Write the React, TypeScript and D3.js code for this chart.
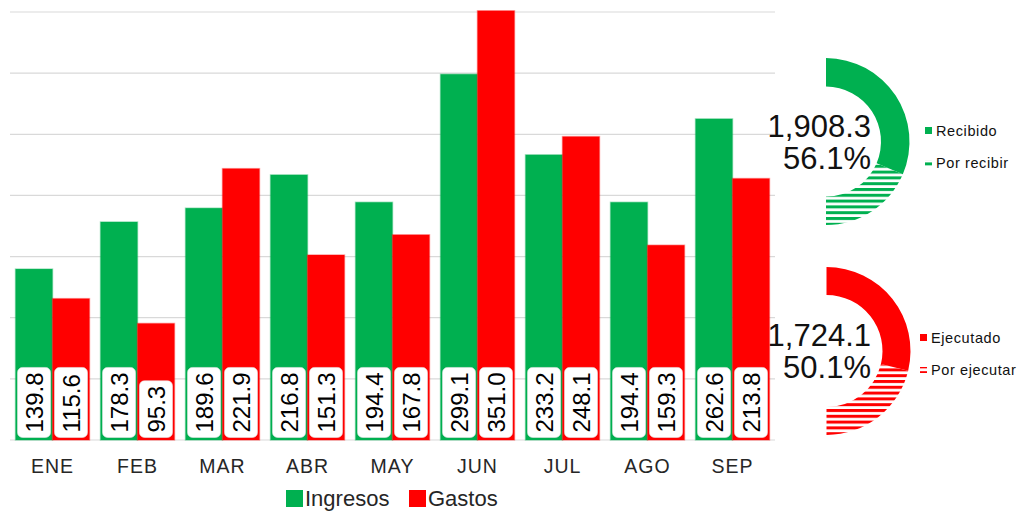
import React from "react";
import * as d3 from "d3";

// monthly data (millions)
const months = ["ENE", "FEB", "MAR", "ABR", "MAY", "JUN", "JUL", "AGO", "SEP"];
const ingresos = [139.8, 178.3, 189.6, 216.8, 194.4, 299.1, 233.2, 194.4, 262.6];
const gastos = [115.6, 95.3, 221.9, 151.3, 167.8, 351.0, 248.1, 159.3, 213.8];
const yTicks = [0, 50, 100, 150, 200, 250, 300, 350];
const seriesNames = ["Ingresos", "Gastos"];

// gauges: [done, pending]
const ingresosGauge = [1908.3, 1130];
const ingresosGaugeLabels = ["Recibido", "Por recibir"];
const ingresosGaugeText = ["1,908.3", "56.1%"];
const gastosGauge = [1724.1, 1274];
const gastosGaugeLabels = ["Ejecutado", "Por ejecutar"];
const gastosGaugeText = ["1,724.1", "50.1%"];

const GREEN = "#00B050";
const RED = "#FF0000";
const FONT = "'Liberation Sans', Arial, sans-serif";

// approx Arial width of a number label
const textWidth = (s: string, size: number) =>
  s.split("").reduce((a, c) => a + (c === "." || c === "," ? 0.278 : 0.556), 0) * size;

const Gauge = ({ cx, cy, r0, r1, values, color, patternId, text, labels, legendX, legendY }: any) => {
  const pie = d3.pie<number>().sort(null).startAngle(0).endAngle(Math.PI)(values);
  const arc = d3.arc<d3.PieArcDatum<number>>().innerRadius(r0).outerRadius(r1);
  return (
    <g>
      <g transform={`translate(${cx},${cy})`}>
        {pie.map((d, i) => (
          <path key={i} d={arc(d) || ""} fill={i === 0 ? color : `url(#${patternId})`} />
        ))}
      </g>
      <text x={871} y={cy - 5} textAnchor="end" fontSize={31} fontFamily={FONT} fill="#111">
        {text[0]}
      </text>
      <text x={871} y={cy + 27} textAnchor="end" fontSize={31} fontFamily={FONT} fill="#111">
        {text[1]}
      </text>
      <rect x={legendX} y={legendY[0] - 9} width={7} height={7} fill={color} />
      <rect x={legendX} y={legendY[1] - 8} width={7} height={6} fill={`url(#${patternId})`} />
      {labels.map((l: string, i: number) => (
        <text key={l} x={legendX + 11} y={legendY[i]} fontSize={14.5} letterSpacing={0.6}
          fontFamily={FONT} fill="#111">{l}</text>
      ))}
    </g>
  );
};

export default function App() {
  const width = 1018;
  const height = 513;
  const x0 = d3.scaleBand().domain(months).range([10, 775]).paddingInner(0.13).paddingOuter(0.065);
  const x1 = d3.scaleBand().domain(seriesNames).range([0, x0.bandwidth()]).padding(0);
  const y = d3.scaleLinear().domain([0, 350]).range([440, 12]);
  const bw = x1.bandwidth();

  const bars = months.flatMap((m, i) => [
    { m, s: "Ingresos", v: ingresos[i], color: GREEN },
    { m, s: "Gastos", v: gastos[i], color: RED },
  ]);

  return (
    <div style={{ position: "absolute", left: 0, top: 0 }}>
      <svg width={width} height={height} style={{ display: "block", background: "#fff" }}>
        <defs>
          <pattern id="stripeG" patternUnits="userSpaceOnUse" width={6} height={5.8}>
            <rect x={0} y={0} width={6} height={3} fill={GREEN} />
          </pattern>
          <pattern id="stripeR" patternUnits="userSpaceOnUse" width={6} height={5.8}>
            <rect x={0} y={0} width={6} height={3} fill={RED} />
          </pattern>
        </defs>

        {/* grid */}
        {yTicks.map((t) => (
          <line key={t} x1={10} x2={775} y1={y(t)} y2={y(t)} stroke="#d9d9d9" strokeWidth={1.2} />
        ))}

        {/* gauges */}
        <Gauge cx={826} cy={141.6} r0={55} r1={83.5} values={ingresosGauge} color={GREEN}
          patternId="stripeG" text={ingresosGaugeText} labels={ingresosGaugeLabels}
          legendX={925} legendY={[136, 168]} />
        <Gauge cx={826.5} cy={351} r0={56} r1={84} values={gastosGauge} color={RED}
          patternId="stripeR" text={gastosGaugeText} labels={gastosGaugeLabels}
          legendX={920} legendY={[343, 375]} />

        {/* bars */}
        {bars.map((d) => {
          const bx = (x0(d.m) || 0) + (x1(d.s) || 0);
          const label = d.v.toFixed(1);
          const tw = textWidth(label, 24);
          const boxH = tw + 10;
          const cx = bx + bw / 2;
          return (
            <g key={d.m + d.s}>
              <rect x={bx} y={y(d.v)} width={bw} height={y(0) - y(d.v)} fill={d.color}
                stroke={d.color} strokeOpacity={0.35} strokeWidth={1.5} />
              <rect x={bx + 2} y={437.5 - boxH} width={bw - 4} height={boxH} rx={5}
                fill="#fff" stroke="#e6e6e6" strokeWidth={0.6} />
              <text transform={`translate(${cx + 8.6},432.5) rotate(-90)`} fontSize={24}
                fontFamily={FONT} fill="#000">{label}</text>
            </g>
          );
        })}

        {/* x axis labels */}
        {months.map((m) => (
          <text key={m} x={(x0(m) || 0) + x0.bandwidth() / 2} y={473} textAnchor="middle"
            fontSize={19.5} letterSpacing={1} fontFamily={FONT} fill="#262626">{m}</text>
        ))}

        {/* legend */}
        <rect x={286} y={490} width={17} height={17} fill={GREEN} />
        <text x={305} y={506} fontSize={22} fontFamily={FONT} fill="#262626">{seriesNames[0]}</text>
        <rect x={409} y={490} width={17} height={17} fill={RED} />
        <text x={428} y={506} fontSize={22} fontFamily={FONT} fill="#262626">{seriesNames[1]}</text>
      </svg>
    </div>
  );
}
